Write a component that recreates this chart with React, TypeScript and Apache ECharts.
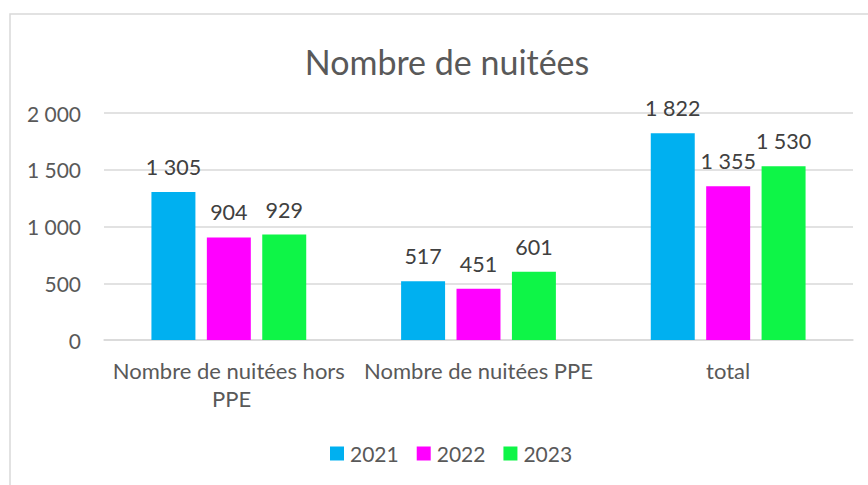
import React, { useEffect, useRef } from "react";
import * as echarts from "echarts";

const categories = ["Nombre de nuitées hors PPE", "Nombre de nuitées PPE", "total"];
const seriesNames = ["2021", "2022", "2023"];
const values2021 = [1305, 517, 1822];
const values2022 = [904, 451, 1355];
const values2023 = [929, 601, 1530];
const colors = ["#00B0F0", "#FF00FF", "#0EF547"];
const titleText = "Nombre de nuitées";

const fmt = (v: number) => String(v).replace(/\B(?=(\d{3})+(?!\d))/g, " ");
const FONT = "Lato";

export default function App() {
  const ref = useRef<HTMLDivElement>(null);
  useEffect(() => {
    const chart = echarts.init(ref.current!, null, { renderer: "svg" });
    const data = [values2021, values2022, values2023];
    chart.setOption({
      animation: false,
      backgroundColor: "#ffffff",
      textStyle: { fontFamily: FONT },
      graphic: [
        {
          type: "rect",
          shape: { x: 10, y: 14, width: 900, height: 520 },
          style: { fill: "none", stroke: "#d9d9d9", lineWidth: 1.5 },
          silent: true,
        },
        {
          type: "text",
          x: 447,
          y: 61,
          style: {
            text: titleText,
            fontFamily: FONT,
            fontSize: 34,
            fill: "#595959",
            textAlign: "center",
            textVerticalAlign: "middle",
          },
        },
      ],
      legend: {
        data: seriesNames,
        left: 330,
        top: 443,
        padding: 0,
        itemWidth: 14,
        itemHeight: 14,
        itemGap: 18,
        icon: "rect",
        textStyle: { fontFamily: FONT, fontSize: 21, color: "#595959", padding: [0, 0, 0, 1] },
      },
      grid: { left: 104, right: 15, top: 113, bottom: 145, containLabel: false },
      xAxis: {
        type: "category",
        data: categories,
        axisLine: { lineStyle: { color: "#d9d9d9", width: 1.5 } },
        axisTick: { show: false },
        axisLabel: {
          interval: 0,
          margin: 16,
          fontFamily: FONT,
          fontSize: 22,
          lineHeight: 28,
          color: "#595959",
          width: 245,
          overflow: "break",
        },
      },
      yAxis: {
        type: "value",
        min: 0,
        max: 2000,
        interval: 500,
        axisLine: { show: false },
        axisTick: { show: false },
        splitLine: { lineStyle: { color: "#d9d9d9", width: 1.5 } },
        axisLabel: {
          margin: 23,
          fontFamily: FONT,
          fontSize: 21,
          color: "#595959",
          formatter: (v: number) => fmt(v),
        },
      },
      series: seriesNames.map((name, i) => ({
        name,
        type: "bar",
        data: data[i],
        barGap: "26%",
        barCategoryGap: "38%",
        itemStyle: { color: colors[i] },
        label: {
          show: true,
          position: "top",
          distance: 15,
          fontFamily: FONT,
          fontSize: 21.5,
          lineHeight: 20,
          color: "#404040",
          formatter: (p: any) => fmt(p.value),
        },
      })),
    });
    return () => chart.dispose();
  }, []);
  return (
    <div
      ref={ref}
      style={{ position: "fixed", left: 0, top: 0, width: 868, height: 485 }}
    />
  );
}
